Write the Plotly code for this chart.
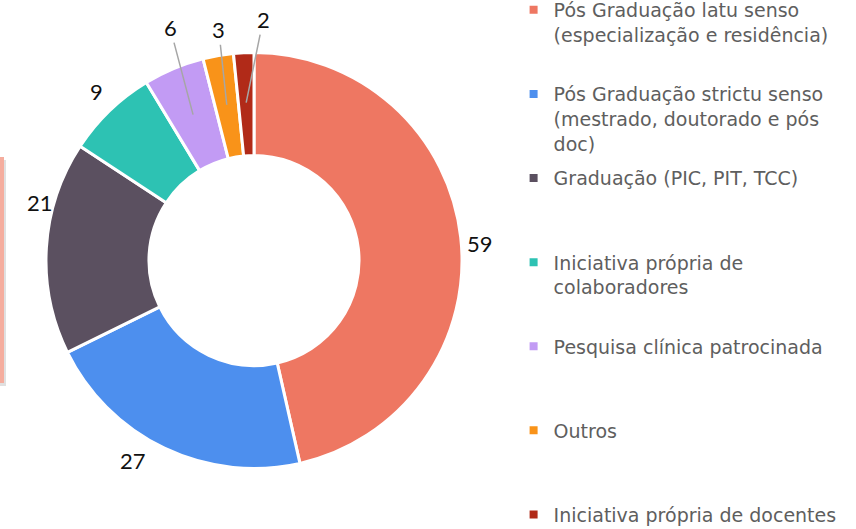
import math
import plotly.graph_objects as go

# ---------------- data ----------------
categories = [
    "Pós Graduação latu senso (especialização e residência)",
    "Pós Graduação strictu senso (mestrado, doutorado e pós doc)",
    "Graduação (PIC, PIT, TCC)",
    "Iniciativa própria de colaboradores",
    "Pesquisa clínica patrocinada",
    "Outros",
    "Iniciativa própria de docentes",
]
values = [59, 27, 21, 9, 6, 3, 2]

# legend text (line breaks as in the reference)
legend_text = [
    "Pós Graduação latu senso<br>(especialização e residência)",
    "Pós Graduação strictu senso<br>(mestrado, doutorado e pós<br>doc)",
    "Graduação (PIC, PIT, TCC)",
    "Iniciativa própria de<br>colaboradores",
    "Pesquisa clínica patrocinada",
    "Outros",
    "Iniciativa própria de docentes",
]

# ---------------- style ----------------
colors = ["#EE7762", "#4D8FEE", "#5B5060", "#2DC2B3", "#C29BF4", "#F99319", "#B12A18"]
W, H = 856, 529
FONT = "Lato"
LEGEND_FONT = "DejaVu Sans"
dom_x = [46 / W, 462 / W]
dom_y = [1 - 468.5 / H, 1 - 52.5 / H]
HOLE = 0.505

# label placement style: (with leader line?, radius fraction, dx px, dy px [screen, down +])
label_style = [
    (False, 1.0, 19, 6),
    (False, 1.0, -31, 12),
    (False, 1.0, -6, -45),
    (False, 1.0, -13, -19),
    (True, 0.76, -23, -87),
    (True, 0.76, -8, -75),
    (True, 0.76, 17, -83),
]

fig = go.Figure()
fig.add_trace(go.Pie(
    labels=categories,
    values=values,
    sort=False,
    direction="clockwise",
    rotation=0,
    hole=HOLE,
    textinfo="none",
    marker=dict(colors=colors, line=dict(color="white", width=3)),
    domain=dict(x=dom_x, y=dom_y),
    showlegend=False,
))

# legend entries (one group per category for even spacing)
max_lines = 3
for i, (txt, c) in enumerate(zip(legend_text, colors)):
    n = txt.count("<br>") + 1
    pad = "<br> " * (max_lines - n) if i < len(legend_text) - 1 else ""
    fig.add_trace(go.Scatter(
        x=[None], y=[None], mode="markers",
        marker=dict(symbol="square", size=8, color=c),
        name=txt + pad, legendgroup=f"g{i}", showlegend=True,
        hoverinfo="skip",
    ))

# labels computed from slice angles
cx_px = (dom_x[0] + dom_x[1]) / 2 * W
cy_px = (1 - (dom_y[0] + dom_y[1]) / 2) * H
R = min((dom_x[1] - dom_x[0]) * W, (dom_y[1] - dom_y[0]) * H) / 2
total = sum(values)
cum = 0
annotations = []
for v, (line, rf, dx, dy) in zip(values, label_style):
    mid = (cum + v / 2) / total * 2 * math.pi
    cum += v
    px = cx_px + rf * R * math.sin(mid)
    py = cy_px - rf * R * math.cos(mid)
    xa, ya = px / W, 1 - py / H
    if line:
        annotations.append(dict(
            x=xa, y=ya, xref="paper", yref="paper", text=str(v),
            showarrow=True, arrowhead=0, arrowwidth=1.5, arrowcolor="#A6A6A6",
            ax=dx, ay=dy, standoff=0,
            font=dict(family=FONT, size=22, color="#111111"),
        ))
    else:
        annotations.append(dict(
            x=xa, y=ya, xref="paper", yref="paper", text=str(v),
            showarrow=False, xshift=dx, yshift=-dy,
            xanchor="center", yanchor="middle",
            font=dict(family=FONT, size=22, color="#111111"),
        ))

fig.update_layout(
    width=W, height=H,
    margin=dict(l=0, r=0, t=0, b=0, autoexpand=False),
    paper_bgcolor="white", plot_bgcolor="white",
    xaxis=dict(visible=False), yaxis=dict(visible=False),
    annotations=annotations,
    legend=dict(
        x=0.6, xanchor="left", y=1.017, yanchor="top",
        traceorder="grouped", tracegroupgap=7,
        valign="top", maxheight=700,
        font=dict(family=LEGEND_FONT, size=19, color="#5E5E5E"),
        bgcolor="rgba(0,0,0,0)",
        itemclick=False, itemdoubleclick=False,
    ),
    shapes=[
        dict(type="rect", xref="paper", yref="paper",
             x0=-0.01, x1=6 / W, y0=1 - 386 / H, y1=1 - 160 / H,
             fillcolor="rgba(0,0,0,0.12)", line=dict(width=0), layer="below"),
        dict(type="rect", xref="paper", yref="paper",
             x0=-0.01, x1=4 / W, y0=1 - 383 / H, y1=1 - 157 / H,
             fillcolor="#F5AD9E", line=dict(width=0), layer="below"),
    ],
)

fig.write_html(
    "out.html",
    config={"displayModeBar": False},
    post_script="document.body.style.margin='0px';",
)
